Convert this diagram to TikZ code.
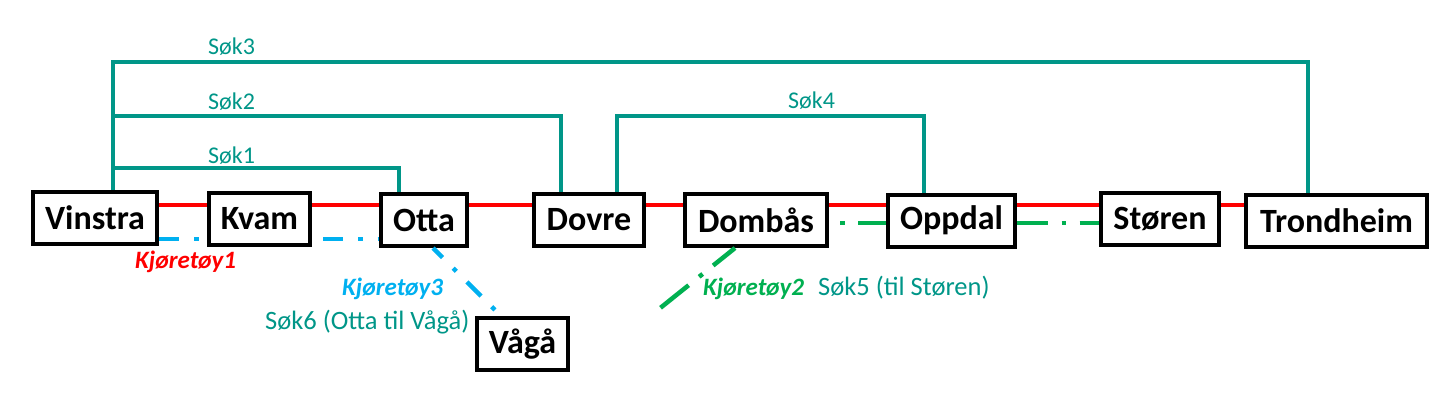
\documentclass[tikz,border=0pt]{standalone}
\usepackage{fontspec}
\setmainfont{Carlito}
\definecolor{sokteal}{RGB}{0,150,136}
\definecolor{bilblue}{RGB}{0,176,240}
\definecolor{bilgreen}{RGB}{0,176,80}
\begin{document}
\begin{tikzpicture}[x=1pt, y=-1pt,
	stasjon/.style={draw, line width=4pt, fill=white, inner sep=0pt, minimum height=52pt, font=\fontsize{34}{40}\selectfont\bfseries},
	sok/.style={sokteal, line width=4pt},
	soktekst/.style={text=sokteal, inner sep=0pt, anchor=base west, font=\fontsize{24}{28}\selectfont},
	sokstor/.style={soktekst, font=\fontsize{26.5}{30}\selectfont},
	biltekst/.style={inner sep=0pt, anchor=base west, font=\fontsize{25}{28}\selectfont\bfseries\itshape},
	rute/.style={red, line width=4pt},
	bil3/.style={bilblue, line width=4.5pt, dash pattern=on 20pt off 15pt on 4.5pt off 15pt},
	bil2/.style={bilgreen, line width=4.5pt, dash pattern=on 36pt off 13.5pt on 4.5pt off 13.5pt}]
	\useasboundingbox (0,0) rectangle (1442,413);
	\node[stasjon, minimum width=124pt] (vinstra) at (95,217.5) {Vinstra};
	\node[stasjon, minimum width=101pt] (kvam) at (259.5,219) {Kvam};
	\node[stasjon, minimum width=86pt] (otta) at (424,220) {Otta};
	\node[stasjon, minimum width=110pt] (dovre) at (589,219.5) {Dovre};
	\node[stasjon, minimum width=142pt] (dombas) at (756,220) {Dombås};
	\node[stasjon, minimum width=127pt] (oppdal) at (951.5,220.5) {Oppdal};
	\node[stasjon, minimum width=118pt] (storen) at (1160,219) {Støren};
	\node[stasjon, minimum width=181pt] (trondheim) at (1336.5,220.5) {Trondheim};
	\node[stasjon, minimum width=91pt] (vaga) at (522.5,344) {Vågå};
	\coordinate (rl) at (0,205);
	\coordinate (bl) at (0,239);
	\coordinate (gl) at (0,223);
	\foreach \a/\b in {vinstra/kvam,kvam/otta,otta/dovre,dovre/dombas,dombas/oppdal,oppdal/storen,storen/trondheim}
		\draw[rute] (\a.east |- rl) -- (\b.west |- rl);
	\coordinate (s3) at (700,62);
	\coordinate (s2) at (300,116);
	\coordinate (s1) at (250,168);
	\coordinate (s4) at (770,116);
	\draw[sok] ([xshift=18pt]vinstra.north) |- (s3) -| ([xshift=-28.5pt]trondheim.north);
	\draw[sok] ([xshift=18pt]vinstra.north) |- (s2) -| ([xshift=-28pt]dovre.north);
	\draw[sok] ([xshift=18pt]vinstra.north) |- (s1) -| ([xshift=-25pt]otta.north);
	\draw[sok] ([xshift=28pt]dovre.north) |- (s4) -| ([xshift=-27.5pt]oppdal.north);
	\node[soktekst] (sok3) at (208,54) {Søk3};
	\node[soktekst] (sok2) at (208,109) {Søk2};
	\node[soktekst] (sok1) at (208,163) {Søk1};
	\node[soktekst] (sok4) at (788,108) {Søk4};
	\draw[bil3] (vinstra.east |- bl) -- (kvam.west |- bl);
	\draw[bil3, dash phase=43.5pt] (kvam.east |- bl) -- (otta.west |- bl);
	\coordinate (b3end) at (495,310);
	\draw[bil3, dash phase=6.5pt] ([xshift=9pt]otta.south) -- (b3end);
	\draw[bil2, dash phase=38.5pt] (dombas.east |- gl) -- (oppdal.west |- gl);
	\draw[bil2, dash phase=5pt] (oppdal.east |- gl) -- (storen.west |- gl);
	\coordinate (b2end) at (654,313);
	\draw[bil2, dash phase=8pt] ([xshift=-21pt]dombas.south) -- (b2end);
	\node[biltekst, text=red] (bil1) at (135,268) {Kjøretøy1};
	\node[biltekst, text=bilblue] (bil3lbl) at (342,295) {Kjøretøy3};
	\node[sokstor] (sok6) at (265,329) {Søk6 (Otta til Vågå)};
	\node[biltekst, text=bilgreen] (bil2lbl) at (703,295) {Kjøretøy2};
	\node[sokstor] (sok5) at (818,295) {Søk5 (til Støren)};
\end{tikzpicture}
\end{document}
